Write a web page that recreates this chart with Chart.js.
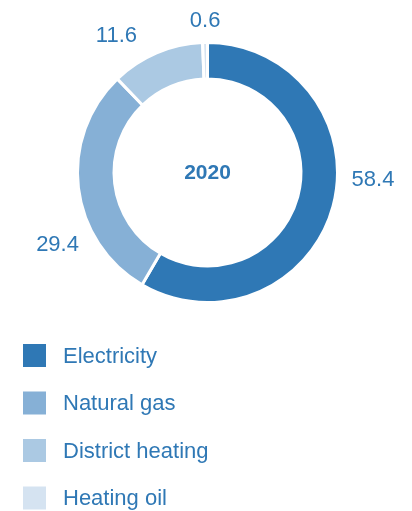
<!DOCTYPE html>
<html>
<head>
<meta charset="utf-8">
<script src="https://cdn.jsdelivr.net/npm/chart.js@4/dist/chart.umd.min.js"></script>
<style>
  html, body { margin: 0; padding: 0; background: #ffffff; }
  #wrap { position: relative; width: 412px; height: 511px; }
</style>
</head>
<body>
<div id="wrap"><canvas id="c"></canvas></div>
<script>
// ---- data ----
const categories = ["Electricity", "Natural gas", "District heating", "Heating oil"];
const shares = [58.4, 29.4, 11.6, 0.6];
const valueLabels = ["58.4", "29.4", "11.6", "0.6"];
const centerTitle = "2020";

// ---- styles ----
const colors = ["#2f78b5", "#86b0d6", "#abc9e3", "#d5e3f1"];
const textColor = "#2f78b5";
const fontFamily = "'Liberation Sans', Arial, Helvetica, sans-serif";
// label placement relative to each segment: angular shift (deg) from mid-angle and distance from centre (px)
const labelPlacement = [
  { shift: -12.9, dist: 165.6 },
  { shift: -18.7, dist: 166.2 },
  { shift: -10.4, dist: 165.2 },
  { shift: 0.2, dist: 153 }
];

const overlayPlugin = {
  id: 'overlay',
  afterDraw(chart) {
    const ctx = chart.ctx;
    const meta = chart.getDatasetMeta(0);
    ctx.save();
    ctx.fillStyle = textColor;
    ctx.textAlign = 'center';
    ctx.textBaseline = 'middle';
    // value labels
    ctx.font = "22px " + fontFamily;
    meta.data.forEach((arc, i) => {
      const p = arc.getProps(['x', 'y', 'startAngle', 'endAngle'], true);
      const mid = (p.startAngle + p.endAngle) / 2 + labelPlacement[i].shift * Math.PI / 180;
      const d = labelPlacement[i].dist;
      ctx.fillText(valueLabels[i], p.x + Math.cos(mid) * d, p.y + Math.sin(mid) * d + 1);
    });
    // centre title
    const a0 = meta.data[0];
    ctx.font = "bold 21px " + fontFamily;
    ctx.fillText(centerTitle, a0.x, a0.y + 1);
    // legend
    ctx.font = "22px " + fontFamily;
    ctx.textAlign = 'left';
    const legendTop = 355.5, legendStep = 47.5, box = 23;
    categories.forEach((name, i) => {
      const cy = legendTop + i * legendStep;
      ctx.fillStyle = colors[i];
      ctx.fillRect(23, cy - box / 2, box, box);
      ctx.fillStyle = textColor;
      ctx.fillText(name, 63, cy + 1);
    });
    ctx.restore();
  }
};

new Chart(document.getElementById('c'), {
  type: 'doughnut',
  data: {
    labels: categories,
    datasets: [{
      data: shares,
      backgroundColor: colors,
      borderColor: '#ffffff',
      borderWidth: 3,
      hoverOffset: 0
    }]
  },
  options: {
    responsive: true,
    maintainAspectRatio: false,
    animation: false,
    cutout: '71.9%',
    layout: { padding: { left: 76, right: 73, top: 41, bottom: 207 } },
    plugins: {
      legend: { display: false },
      tooltip: { enabled: false }
    }
  },
  plugins: [overlayPlugin]
});
</script>
</body>
</html>
